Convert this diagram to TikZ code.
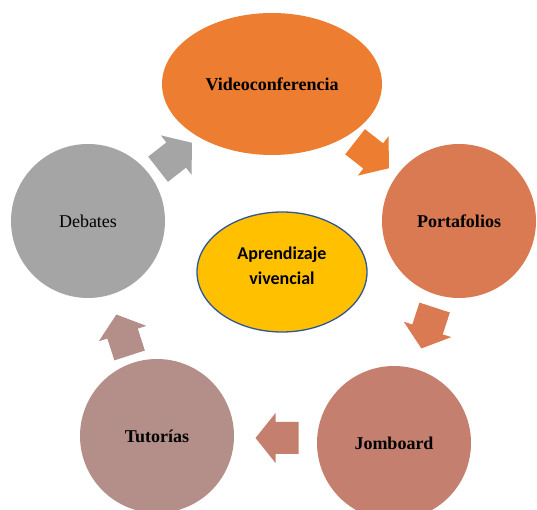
\documentclass[tikz,border=0pt]{standalone}
\usepackage{fontspec}
\setmainfont{Liberation Serif}
\newfontfamily\calibri{Carlito}
\usetikzlibrary{shapes.geometric}

\definecolor{videoC}{HTML}{ED7D31}
\definecolor{portC}{HTML}{D97A52}
\definecolor{jomC}{HTML}{C47F6F}
\definecolor{tutC}{HTML}{B48E88}
\definecolor{debC}{HTML}{A5A5A5}
\definecolor{centerC}{HTML}{FFC000}
\definecolor{borderC}{HTML}{2F5597}

\tikzset{
  stage/.style={circle,inner sep=0pt,minimum size=154pt,font=\fontsize{18}{21}\selectfont},
  cyclearrow/.pic={\fill (-21.5,-16) -- (1.5,-16) -- (1.5,-25) -- (21.5,0) -- (1.5,25) -- (1.5,16) -- (-21.5,16) -- cycle;}
}

\begin{document}
\begin{tikzpicture}[x=1pt,y=1pt]
\useasboundingbox (0,0) rectangle (537,510);
\clip (0,0) rectangle (537,510);

% Stages of the cycle
\node[ellipse,fill=videoC,inner sep=0pt,minimum width=220pt,minimum height=142pt,
  font=\fontsize{18}{21}\selectfont\bfseries] (video) at (272,426) {Videoconferencia};
\node[stage,fill=portC,font=\fontsize{18}{21}\selectfont\bfseries] (port) at (459,289) {Portafolios};
\node[stage,fill=jomC,font=\fontsize{18}{21}\selectfont\bfseries] (jom) at (394,67) {Jomboard};
\node[stage,fill=tutC,font=\fontsize{18}{21}\selectfont\bfseries] (tut) at (157,74) {Tutorías};
\node[stage,fill=debC] (deb) at (88,289) {Debates};

% Centre
\node[ellipse,fill=centerC,draw=borderC,line width=1.3pt,inner sep=0pt,
  minimum width=170pt,minimum height=120pt] (center) at (282,238) {};
\node[align=center,font=\calibri\fontsize{18}{25}\selectfont\bfseries] (centertext)
  at ([yshift=6pt]center.center) {Aprendizaje\\vivencial};

% Arrows between the stages
\pic[fill=debC,rotate=38] at (175,354) {cyclearrow};
\pic[fill=videoC,rotate=-38] at (372,355) {cyclearrow};
\pic[fill=portC,rotate=-108] at (428,182) {cyclearrow};
\pic[fill=jomC,rotate=180] at (277,72) {cyclearrow};
\pic[fill=tutC,rotate=108] at (123,175) {cyclearrow};
\end{tikzpicture}
\end{document}
